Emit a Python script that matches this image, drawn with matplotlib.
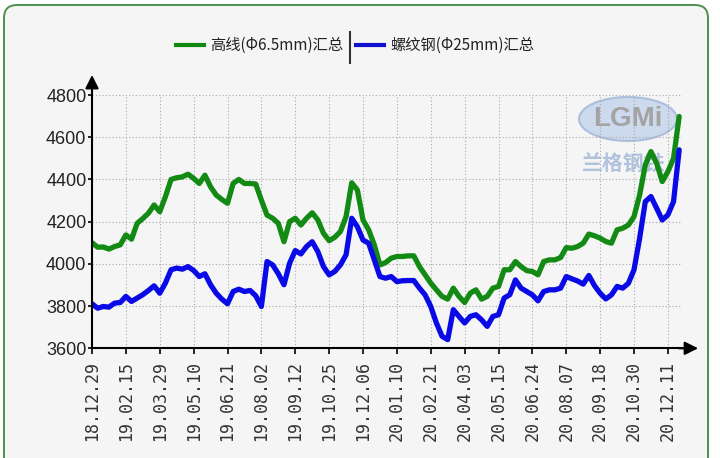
import matplotlib
matplotlib.use("Agg")
import matplotlib.pyplot as plt
from matplotlib.patches import FancyBboxPatch, Ellipse
from matplotlib.lines import Line2D

# weekly prices, 18.12.29 .. 20.12.25
gaoxian = [4100, 4079, 4080, 4070, 4082, 4090, 4137, 4117, 4192, 4215,
           4240, 4279, 4247, 4318, 4400, 4408, 4412, 4425, 4405, 4381,
           4420, 4365, 4326, 4305, 4287, 4381, 4400, 4381, 4381, 4378,
           4302, 4231, 4216, 4192, 4105, 4200, 4216, 4184, 4216, 4242,
           4208, 4145, 4110, 4126, 4153, 4224, 4384, 4350, 4208, 4161,
           4090, 3995, 4006, 4027, 4035, 4035, 4038, 4038, 3987, 3948,
           3909, 3877, 3846, 3833, 3885, 3846, 3817, 3861, 3877, 3833,
           3846, 3885, 3893, 3972, 3972, 4011, 3987, 3968, 3964, 3948,
           4011, 4019, 4019, 4030, 4077, 4074, 4082, 4098, 4141, 4133,
           4122, 4106, 4098, 4161, 4169, 4184, 4224, 4327, 4469, 4532,
           4477, 4390, 4437, 4500, 4698]
luowen = [3811, 3790, 3798, 3795, 3814, 3817, 3846, 3822, 3838, 3854,
          3874, 3896, 3861, 3909, 3972, 3980, 3975, 3987, 3969, 3940,
          3953, 3901, 3861, 3833, 3811, 3869, 3880, 3869, 3874, 3849,
          3798, 4011, 3995, 3953, 3901, 4003, 4063, 4047, 4082, 4105,
          4058, 3987, 3948, 3964, 3995, 4043, 4216, 4176, 4113, 4098,
          4019, 3940, 3932, 3940, 3916, 3920, 3921, 3921, 3885, 3853,
          3798, 3720, 3657, 3641, 3783, 3751, 3720, 3751, 3759, 3735,
          3704, 3751, 3759, 3838, 3854, 3924, 3885, 3869, 3853, 3825,
          3869, 3877, 3877, 3885, 3940, 3929, 3919, 3904, 3945, 3897,
          3861, 3834, 3853, 3893, 3885, 3908, 3972, 4122, 4295, 4319,
          4264, 4208, 4232, 4295, 4540]
tick_labels = ["18.12.29", "19.02.15", "19.03.29", "19.05.10", "19.06.21",
               "19.08.02", "19.09.12", "19.10.25", "19.12.06", "20.01.10",
               "20.02.21", "20.04.03", "20.05.15", "20.06.24", "20.08.07",
               "20.09.18", "20.10.30", "20.12.11"]
legend_names = ["高线(Φ6.5mm)汇总", "螺纹钢(Φ25mm)汇总"]

plt.rcParams["font.family"] = ["Liberation Sans", "Noto Sans CJK SC", "DejaVu Sans"]

fig = plt.figure(figsize=(7.2, 4.58), dpi=100)
fig.patch.set_facecolor("white")

# background layer in pixel coordinates
bg = fig.add_axes([0, 0, 1, 1], zorder=0)
bg.set_xlim(0, 720)
bg.set_ylim(458, 0)
bg.axis("off")
bg.add_patch(FancyBboxPatch((4, 5), 704, 480, boxstyle="round,pad=0,rounding_size=13",
                            facecolor="#f5f5f5", edgecolor="#4d8f4d", lw=1.4))

# watermark
bg.add_patch(Ellipse((628, 119), 98, 44, facecolor="#c3d3ea", edgecolor="#9fb5d8", lw=1.5, alpha=0.8))
bg.text(628, 119, "LGMi", ha="center", va="center", fontsize=20, fontweight="bold", color="#a3a3a3")
bg.text(624, 164, "兰格钢铁", ha="center", va="center", fontsize=15, fontweight="bold",
        color="#b0c2dc", family=["Noto Sans CJK SC", "DejaVu Sans"])

# legend
bg.add_line(Line2D([176, 204], [45, 45], color="#118811", lw=3))
bg.text(210, 45, legend_names[0], ha="left", va="center", fontsize=11,
        family=["Noto Sans CJK SC", "DejaVu Sans"], color="#222222")
bg.add_line(Line2D([350, 350], [32, 63], color="#333333", lw=1.5))
bg.add_line(Line2D([356, 384], [45, 45], color="#1010d0", lw=3))
bg.text(390, 45, legend_names[1], ha="left", va="center", fontsize=11,
        family=["Noto Sans CJK SC", "DejaVu Sans"], color="#222222")

ax = fig.add_axes([92 / 720, 1 - 348.3 / 458, 590 / 720, 253.3 / 458], zorder=1)
ax.patch.set_alpha(0)

x = list(range(len(gaoxian)))
ax.plot(x, gaoxian, color="#138a13", lw=3.8, solid_joinstyle="round", solid_capstyle="round")
ax.plot(x, luowen, color="#0a0ae6", lw=3.8, solid_joinstyle="round", solid_capstyle="round")

ax.set_xlim(0, 104.5)
ax.set_ylim(3600, 4800)
ax.set_yticks(range(3600, 4801, 200))
ax.set_xticks(range(0, 6 * len(tick_labels), 6))
ax.set_xticklabels(tick_labels, rotation=90, family="DejaVu Sans Mono", fontsize=12, color="#333333")
for lab in ax.get_yticklabels():
    lab.set_family(["Liberation Sans Narrow", "Liberation Sans"])
    lab.set_fontsize(13)
    lab.set_color("#222222")
ax.tick_params(axis="y", length=3, width=1.2, pad=1)
ax.tick_params(axis="x", length=4, width=1.2, pad=5)

ax.grid(True, color="#a8a8a8", lw=0.8, linestyle=(0, (1, 2)))
for s in ["top", "right"]:
    ax.spines[s].set_visible(False)
for s in ["left", "bottom"]:
    ax.spines[s].set_linewidth(1.5)

ax.annotate("", xy=(1.032, 0), xytext=(0.99, 0), xycoords="axes fraction",
            arrowprops=dict(arrowstyle="-|>", color="black", lw=1.5, mutation_scale=20))
ax.annotate("", xy=(0, 1.09), xytext=(0, 0.99), xycoords="axes fraction",
            arrowprops=dict(arrowstyle="-|>", color="black", lw=1.5, mutation_scale=20))

fig.savefig("out.png", dpi=100)
